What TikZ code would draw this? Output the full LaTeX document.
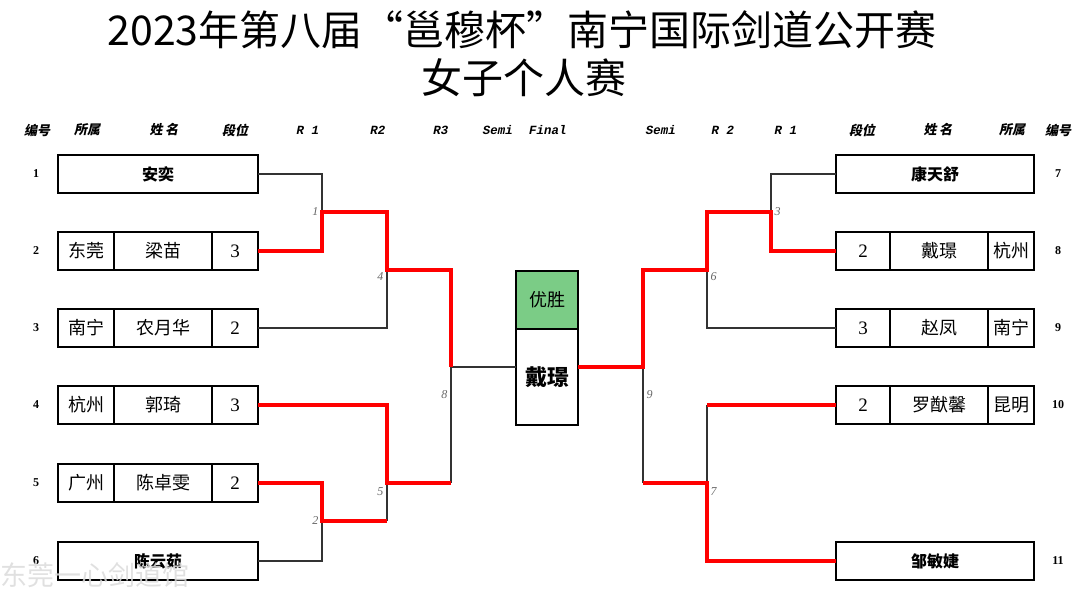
\documentclass[tikz,border=0pt]{standalone}
\usepackage{fontspec}
\setmainfont{Liberation Serif}
\newfontfamily\cjk{Noto Sans CJK SC}
\newfontfamily\cjkit[FakeSlant=0.2]{Noto Sans CJK SC}
\newfontfamily\monoit[FakeSlant=0.2]{Liberation Mono}
\usetikzlibrary{positioning}
\definecolor{wingreen}{RGB}{123,204,134}
\definecolor{winred}{RGB}{255,0,0}

\begin{document}
\begin{tikzpicture}[x=1pt,y=-1pt,
  cell/.style={draw,line width=1.3pt,outer sep=0pt,inner sep=0pt,minimum height=38pt,
    font=\cjk\fontsize{18}{18}\selectfont},
  solo/.style={cell,minimum width=200pt,font=\cjk\bfseries\fontsize{16}{16}\selectfont},
  dan/.style={cell,font=\rmfamily\fontsize{19}{19}\selectfont},
  finbox/.style={draw,line width=2.2pt,outer sep=0pt,inner sep=0pt,minimum width=62pt},
  seed/.style={font=\rmfamily\bfseries\fontsize{12}{12}\selectfont},
  hdr/.style={font=\cjkit\bfseries\fontsize{13}{13}\selectfont},
  hdrlat/.style={font=\monoit\bfseries\fontsize{12.5}{12.5}\selectfont},
  mlab/.style={font=\rmfamily\itshape\fontsize{12}{12}\selectfont,text=black!60},
  lose/.style={line width=1.2pt,draw=black!80},
  win/.style={line width=3.6pt,draw=winred}]
\useasboundingbox (0,0) rectangle (1080,591);

% title
\node[font=\cjk\fontsize{41}{41}\selectfont] (title) at (522,30) {2023年第八届“邕穆杯”南宁国际剑道公开赛};
\node[font=\cjk\fontsize{41}{41}\selectfont] (subtitle) at (524,78) {女子个人赛};

% header row
\foreach \x/\t in {37/编号,87/所属,164/姓 名,235/段位,862/段位,938/姓 名,1012/所属,1058/编号}
  \node[hdr] (h\x) at (\x,130) {\t};
\foreach \x/\t in {307/R 1,377/R2,440/R3,497/Semi,547/Final,660/Semi,722/R 2,785/R 1}
  \node[hdrlat] (h\x) at (\x,130) {\t};

% seed numbers
\foreach \i/\y in {1/174,2/251,3/328,4/405,5/483,6/561}
  \node[seed] (s\i) at (36,\y) {\i};
\foreach \i/\y in {7/174,8/251,9/328,10/405,11/561}
  \node[seed] (s\i) at (1058,\y) {\i};

% left players
\node[solo] (n1) at (158,174) {安奕};
\foreach \i/\y/\club/\nm/\d in {2/251/东莞/梁苗/3,3/328/南宁/农月华/2,4/405/杭州/郭琦/3,5/483/广州/陈卓雯/2}{
  \node[cell,minimum width=56pt] (c\i) at (86,\y) {\club};
  \node[cell,minimum width=98pt,right=0pt of c\i] (n\i) {\nm};
  \node[dan,minimum width=46pt,right=0pt of n\i] (d\i) {\d};
}
\node[solo] (n6) at (158,561) {陈云茹};

% right players
\node[solo,minimum width=198pt] (n7) at (935,174) {康天舒};
\foreach \i/\y/\d/\nm/\club in {8/251/2/戴璟/杭州,9/328/3/赵凤/南宁,10/405/2/罗猷馨/昆明}{
  \node[dan,minimum width=54pt] (d\i) at (863,\y) {\d};
  \node[cell,minimum width=98pt,right=0pt of d\i] (n\i) {\nm};
  \node[cell,minimum width=46pt,right=0pt of n\i] (c\i) {\club};
}
\node[solo,minimum width=198pt] (n11) at (935,561) {邹敏婕};

% champion
\node[finbox,fill=wingreen,minimum height=58pt,font=\cjk\fontsize{18}{18}\selectfont] (champ) at (547,300) {优胜};
\node[finbox,fill=white,minimum height=96pt,below=0pt of champ,font=\cjk\bfseries\fontsize{22}{22}\selectfont] (fin) {戴璟};

% junctions
\coordinate (j1) at (322,212);
\coordinate (j2) at (322,521);
\coordinate (j4) at (387,270);
\coordinate (j5) at (387,483);
\coordinate (j8) at (451,367);
\coordinate (j3) at (771,212);
\coordinate (j6) at (707,270);
\coordinate (j7) at (707,483);
\coordinate (j9) at (643,367);

% lost paths
\draw[lose] (n1.east) -| (j1);
\draw[lose] (d3.east) -| (j4);
\draw[lose] (n6.east) -| (j2);
\draw[lose] (j2 -| j5) -- (j5);
\draw[lose] (j8) -- (j5 -| j8);
\draw[lose] (j8) -- (j8 -| fin.west);
\draw[lose] (n7.west) -| (j3);
\draw[lose] (j6) |- (d9.west);
\draw[lose] (j9) -- (j9 |- j7);
\draw[lose] (d10.west -| j7) -- (j7);

% won paths
\draw[win] (d2.east) -| (j1) -| (j4) -| (j8);
\draw[win] (d4.east) -| (j5) -- (j5 -| j8);
\draw[win] (d5.east) -| (j2) -- (j2 -| j5);
\draw[win] (j9 -| fin.east) -- (j9) |- (j6) |- (j3) |- (d8.west);
\draw[win] (d10.west) -- (d10.west -| j7);
\draw[win] (j9 |- j7) -- (j7) |- (n11.west);

% match numbers
\node[mlab,left] (m1) at (j1) {1};
\node[mlab,left] (m2) at (j2) {2};
\node[mlab,left] (m4) at ([yshift=-7]j4) {4};
\node[mlab,left] (m5) at ([yshift=-9]j5) {5};
\node[mlab,left] (m8) at ([yshift=-28]j8) {8};
\node[mlab,right] (m3) at (j3) {3};
\node[mlab,right] (m6) at ([yshift=-7]j6) {6};
\node[mlab,right] (m7) at ([yshift=-9]j7) {7};
\node[mlab,right] (m9) at ([yshift=-28]j9) {9};

% watermark
\node[anchor=west,inner sep=0pt,text=white!72!gray,opacity=0.85,font=\cjk\fontsize{27}{27}\selectfont] (mark) at (0,575) {东莞一心剑道馆};
\end{tikzpicture}
\end{document}
